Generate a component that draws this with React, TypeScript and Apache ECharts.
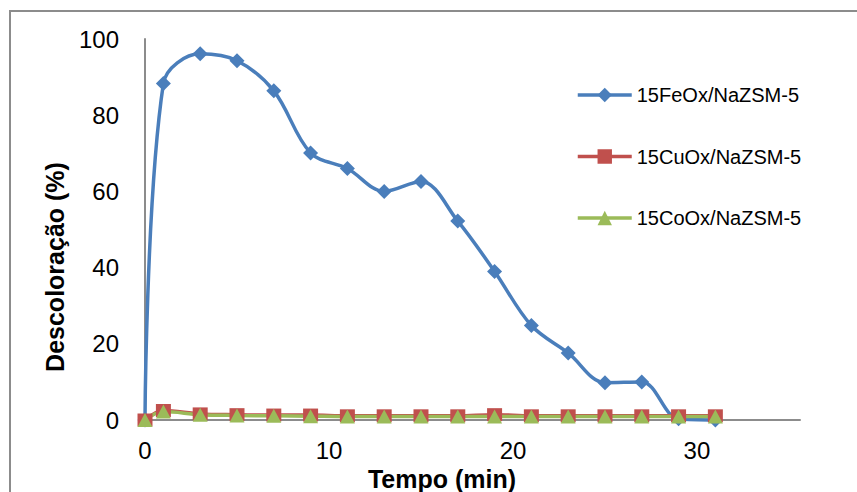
import React, { useEffect, useRef } from "react";
import * as echarts from "echarts";

const tempo = [0, 1, 3, 5, 7, 9, 11, 13, 15, 17, 19, 21, 23, 25, 27, 29, 31];
const feOx = [0, 88.3, 96.1, 94.3, 86.4, 70.1, 66.0, 60.0, 62.6, 52.2, 39.0, 24.8, 17.6, 9.8, 10.0, 0.3, 0];
const cuOx = [0, 2.5, 1.6, 1.4, 1.3, 1.3, 1.1, 1.1, 1.1, 1.1, 1.4, 1.1, 1.1, 1.1, 1.1, 1.1, 1.1];
const coOx = [0, 2.2, 1.4, 1.2, 1.1, 1.0, 0.9, 0.9, 0.9, 0.9, 0.9, 0.9, 0.9, 0.9, 0.9, 0.9, 0.9];
const seriesNames = ["15FeOx/NaZSM-5", "15CuOx/NaZSM-5", "15CoOx/NaZSM-5"];
const xTitle = "Tempo (min)";
const yTitle = "Descoloração (%)";

const FONT = "'Liberation Sans', Arial, sans-serif";

export default function App() {
  const ref = useRef<HTMLDivElement>(null);
  useEffect(() => {
    if (!ref.current) return;
    const chart = echarts.init(ref.current, null, { renderer: "svg" });
    const pairs = (ys: number[]) => tempo.map((x, i) => [x, ys[i]]);
    const mk = (name: string, ys: number[], color: string, symbol: string, size: any) => ({
      name,
      type: "line",
      data: pairs(ys),
      smooth: 0.35,
      clip: false,
      symbol,
      symbolSize: size,
      showAllSymbol: true,
      lineStyle: { color, width: 3.5 },
      itemStyle: { color },
    });
    chart.setOption({
      animation: false,
      backgroundColor: "#ffffff",
      textStyle: { fontFamily: FONT },
      grid: { left: 145, right: 57, top: 39, bottom: 72, containLabel: false },
      legend: {
        orient: "vertical",
        left: 576,
        top: 85,
        padding: 0,
        itemWidth: 54,
        itemHeight: 18,
        itemGap: 41.5,
        lineStyle: { width: 3.5 },
        textStyle: { fontSize: 20, color: "#000", fontFamily: FONT, lineHeight: 20 },
        data: seriesNames,
      },
      xAxis: {
        type: "value",
        min: 0,
        max: 35.6,
        interval: 10,
        axisLine: { show: true, lineStyle: { color: "#8c8c8c", width: 2 } },
        axisTick: { show: false },
        splitLine: { show: false },
        axisLabel: {
          fontSize: 24,
          color: "#000",
          fontFamily: FONT,
          margin: 18,
          formatter: (v: number) => (v % 10 === 0 ? String(v) : ""),
        },
      },
      yAxis: {
        type: "value",
        min: 0,
        max: 100,
        interval: 20,
        axisLine: { show: true, lineStyle: { color: "#8c8c8c", width: 2 } },
        axisTick: { show: false },
        splitLine: { show: false },
        axisLabel: { fontSize: 24, color: "#000", fontFamily: FONT, margin: 26 },
      },
      graphic: [
        {
          type: "rect",
          silent: true,
          shape: { x: 10, y: 11, width: 1200, height: 1000 },
          style: { fill: "none", stroke: "#8c8c8c", lineWidth: 2 },
          z: -1,
        },
        {
          type: "text",
          x: 442,
          y: 479,
          style: {
            text: xTitle,
            font: `bold 25px ${FONT}`,
            fill: "#000",
            textAlign: "center",
            textVerticalAlign: "middle",
          },
        },
        {
          type: "text",
          x: 55,
          y: 267,
          rotation: Math.PI / 2,
          style: {
            text: yTitle,
            font: `bold 25px ${FONT}`,
            fill: "#000",
            textAlign: "center",
            textVerticalAlign: "middle",
          },
        },
      ],
      series: [
        mk(seriesNames[0], feOx, "#4a7ebb", "diamond", 15),
        mk(seriesNames[1], cuOx, "#c0504d", "rect", [15, 13]),
        mk(seriesNames[2], coOx, "#9bbb59", "triangle", [15, 14]),
      ],
    });
    return () => chart.dispose();
  }, []);
  return (
    <div
      ref={ref}
      style={{ position: "absolute", left: 0, top: 0, width: 857, height: 492 }}
    />
  );
}
